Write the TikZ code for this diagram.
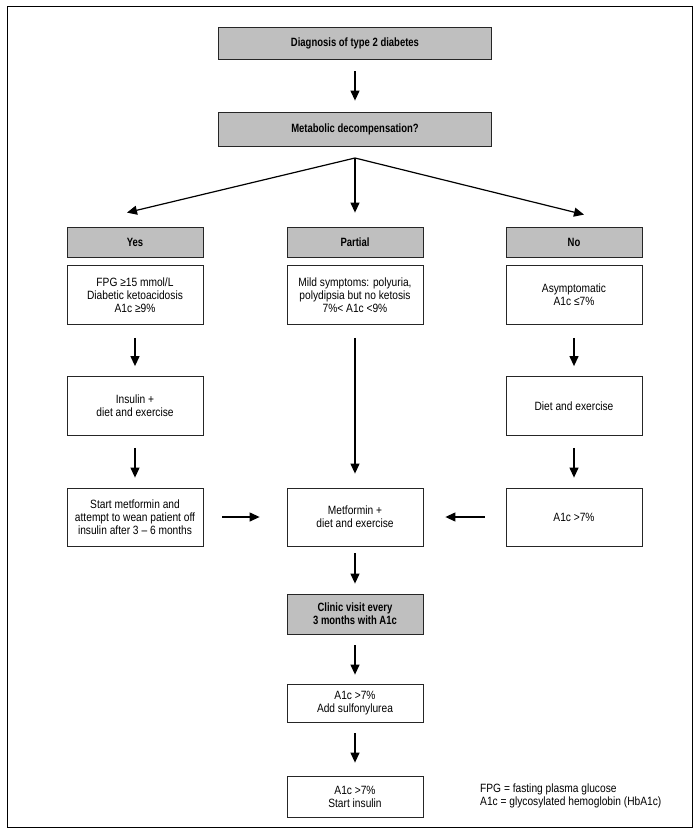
\documentclass[tikz,border=0pt]{standalone}
\usepackage{fontspec}
\setmainfont{Liberation Sans}[FakeStretch=0.85,BoldFeatures={FakeStretch=0.79}]
\usetikzlibrary{arrows.meta}
\usetikzlibrary{positioning}
\usetikzlibrary{calc}

\begin{document}
\begin{tikzpicture}[x=1pt,y=1pt,inner sep=3pt,on grid,
        font=\fontsize{12}{13}\selectfont,
        box/.style={draw=black!85,line width=0.8pt,align=center,minimum width=136pt},
        hdr/.style={box,fill=black!25,font=\fontsize{12}{13}\selectfont\bfseries},
        arr/.style={line width=1.2pt,-{Triangle[length=10pt,width=9pt]}}]
        \useasboundingbox (0,0) rectangle (700,-836);
        \draw [line width=0.9pt] (7,-6) rectangle (692,-827);
        % top of the chart
        \draw node [hdr,minimum width=273pt,minimum height=32pt] (diag)
            at (355,-43) {Diagnosis of type 2 diabetes};
        \draw node [hdr,minimum width=273pt,minimum height=34pt,below=86pt of diag]
            (meta) {Metabolic decompensation?};
        \coordinate [below=29pt of meta] (split);
        % three answers
        \draw node [hdr,minimum height=30pt,below=113pt of meta] (partial) {Partial};
        \draw node [hdr,minimum height=30pt,left=220pt of partial] (yes) {Yes};
        \draw node [hdr,minimum height=30pt,right=219pt of partial] (no) {No};
        \draw node [box,minimum height=59pt,below=53pt of yes]
            (fpg) {FPG ≥15 mmol/L\\Diabetic ketoacidosis\\A1c ≥9\%};
        \draw node [box,minimum height=59pt,below=53pt of partial]
            (mild) {Mild symptoms: polyuria,\\polydipsia but no ketosis\\7\%< A1c <9\%};
        \draw node [box,minimum height=59pt,below=53pt of no]
            (asym) {Asymptomatic\\A1c ≤7\%};
        % treatment rows
        \draw node [box,minimum height=59pt,below=111pt of fpg]
            (insu) {Insulin +\\diet and exercise};
        \draw node [box,minimum height=59pt,below=111pt of asym]
            (diet) {Diet and exercise};
        \draw node [box,minimum height=58pt,below=111pt of insu]
            (start) {Start metformin and\\attempt to wean patient off\\insulin after 3 – 6 months};
        \draw node [box,minimum height=58pt,right=220pt of start]
            (metf) {Metformin +\\diet and exercise};
        \draw node [box,minimum height=58pt,right=219pt of metf] (high) {A1c >7\%};
        % follow-up
        \draw node [hdr,minimum height=40pt,below=97pt of metf]
            (clinic) {Clinic visit every\\3 months with A1c};
        \draw node [box,minimum height=38pt,below=89pt of clinic]
            (sulf) {A1c >7\%\\Add sulfonylurea};
        \draw node [box,minimum height=41pt,below=93.5pt of sulf]
            (insl) {A1c >7\%\\Start insulin};
        \draw node [align=left,anchor=west] (note) at (477,-796)
            {FPG = fasting plasma glucose\\A1c = glycosylated hemoglobin (HbA1c)};
        % arrows
        \draw [arr] ([yshift=-12pt]diag.south) -- ([yshift=11pt]meta.north);
        \draw [arr] (split) -- ([xshift=-8pt,yshift=14pt]yes.north);
        \draw [arr] (split) -- ([yshift=14pt]partial.north);
        \draw [arr] (split) -- ([xshift=10pt,yshift=12pt]no.north);
        \draw [arr] ([yshift=-13pt]fpg.south) -- ([yshift=10pt]insu.north);
        \draw [arr] ([yshift=-12pt]insu.south) -- ([yshift=10pt]start.north);
        \draw [arr] ([yshift=-13pt]asym.south) -- ([yshift=10pt]diet.north);
        \draw [arr] ([yshift=-12pt]diet.south) -- ([yshift=10pt]high.north);
        \draw [arr] ([yshift=-13pt]mild.south) -- ([yshift=14pt]metf.north);
        \draw [arr] ([xshift=19pt]start.east) -- ([xshift=-27pt]metf.west);
        \draw [arr] ([xshift=-21pt]high.west) -- ([xshift=22pt]metf.east);
        \draw [arr] ([yshift=-7pt]metf.south) -- ([yshift=10pt]clinic.north);
        \draw [arr] ([yshift=-11pt]clinic.south) -- ([yshift=9pt]sulf.north);
        \draw [arr] ([yshift=-11pt]sulf.south) -- ([yshift=13pt]insl.north);
\end{tikzpicture}
\end{document}
